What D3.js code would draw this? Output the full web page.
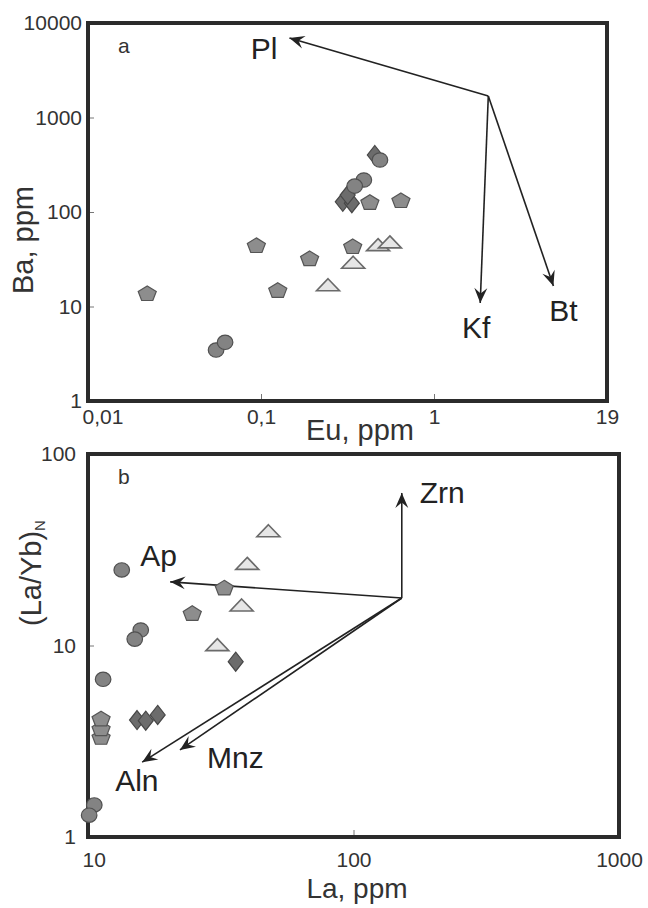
<!DOCTYPE html>
<html>
<head>
<meta charset="utf-8">
<script src="https://cdn.jsdelivr.net/npm/d3@7"></script>
<style>
  html, body { margin: 0; padding: 0; background: #fff; }
  svg { display: block; font-family: "Liberation Sans", Arial, Helvetica, sans-serif; }
</style>
</head>
<body>
<svg id="chart" width="648" height="908"></svg>
<script>
// ---------- Panel a: Ba vs Eu ----------
const euCircles   = [0.487, 0.393, 0.348, 0.055, 0.062];
const baCircles   = [355, 218, 188, 3.46, 4.18];
const euDiamonds  = [0.297, 0.335, 0.317, 0.455];
const baDiamonds  = [128, 124, 151, 401];
const euPentagons = [0.426, 0.644, 0.094, 0.191, 0.339, 0.125, 0.022];
const baPentagons = [128, 134, 44.8, 32.6, 43.7, 15.0, 13.9];
const euTriangles = [0.475, 0.556, 0.341, 0.244];
const baTriangles = [43, 46, 28, 16.2];

const euTicks = [0.01, 0.1, 1, 10];
const euTickLabels = ["0,01", "0,1", "1", "19"];
const baTicks = [1, 10, 100, 1000, 10000];
const baTickLabels = ["1", "10", "100", "1000", "10000"];

// mineral vectors (panel a)
const mineralsA = ["Pl", "Kf", "Bt"];
const originA = [2.06, 1690];
const tipEuA = [0.146, 1.85, 4.9];
const tipBaA = [6940, 10.9, 16.5];

// ---------- Panel b: (La/Yb)N vs La ----------
const laCircles    = [13.4, 15.8, 15.0, 11.4, 10.56, 10.1];
const ratioCircles = [24.8, 12.05, 10.8, 6.66, 1.47, 1.30];
const laPentagons    = [32.6, 24.7, 11.2, 11.2, 11.2];
const ratioPentagons = [20.1, 14.8, 3.34, 3.70, 4.17];
const laDiamonds    = [15.3, 16.5, 18.3, 36.0];
const ratioDiamonds = [4.08, 4.05, 4.34, 8.23];
const laTriangles    = [47.8, 39.8, 37.9, 30.7];
const ratioTriangles = [38.8, 26.2, 15.9, 9.86];

const laTicks = [10, 100, 1000];
const laTickLabels = ["10", "100", "1000"];
const ratioTicks = [1, 10, 100];
const ratioTickLabels = ["1", "10", "100"];

// mineral vectors (panel b)
const mineralsB = ["Zrn", "Ap", "Mnz", "Aln"];
const originB = [152, 17.7];
const tipLaB = [152, 20.4, 22.2, 16.0];
const tipRatioB = [62.6, 21.5, 2.85, 2.46];

// ---------- drawing ----------
const svg = d3.select("#chart");
const FONT_TICK = 21, FONT_MIN = 30;
const INK = "#2b2b2b";

const defs = svg.append("defs");
defs.append("marker")
  .attr("id", "barb")
  .attr("viewBox", "-16 -8 17 16")
  .attr("markerWidth", 17).attr("markerHeight", 16)
  .attr("refX", 0).attr("refY", 0)
  .attr("markerUnits", "userSpaceOnUse")
  .attr("orient", "auto")
  .append("path")
  .attr("d", "M0,0 L-15,-6.5 L-9.5,0 L-15,6.5 Z")
  .attr("fill", "#222");

function pentagonPath(R, sy) {
  const pts = d3.range(5).map(i => {
    const a = (-90 + 72 * i) * Math.PI / 180;
    return [R * Math.cos(a), R * Math.sin(a) * sy + 1];
  });
  return "M" + pts.map(p => p.join(",")).join("L") + "Z";
}
const shapes = {
  pentagon: { d: pentagonPath(9.5, 0.85), fill: "#8d8d8d", stroke: "#555" },
  diamond:  { d: "M0,-9.5 L7.5,0 L0,9.5 L-7.5,0 Z", fill: "#6c6c6c", stroke: "#474747" },
  circle:   { d: null, fill: "#838383", stroke: "#505050" },
  triangle: { d: "M0,-8 L11.5,4 L-11.5,4 Z", fill: "#e6e6e6", stroke: "#6a6a6a" }
};

function drawPanel(cfg) {
  const g = svg.append("g");
  const x = d3.scaleLog().domain(cfg.xDomain).range([cfg.left, cfg.right]);
  const y = d3.scaleLog().domain(cfg.yDomain).range([cfg.bottom, cfg.top]);

  // axes with short inward ticks
  const xa = g.append("g").attr("transform", `translate(0,${cfg.bottom})`)
    .call(d3.axisBottom(x).tickValues(cfg.xTicks)
      .tickFormat((d, i) => cfg.xTickLabels[i])
      .tickSizeInner(-7).tickSizeOuter(0).tickPadding(cfg.xPad));
  const ya = g.append("g").attr("transform", `translate(${cfg.left},0)`)
    .call(d3.axisLeft(y).tickValues(cfg.yTicks)
      .tickFormat((d, i) => cfg.yTickLabels[i])
      .tickSizeInner(-6).tickSizeOuter(0).tickPadding(cfg.yPad));
  [xa, ya].forEach(a => {
    a.select(".domain").remove();
    a.selectAll(".tick line").attr("stroke", "#777").attr("stroke-width", 1);
    a.selectAll(".tick text").attr("font-size", FONT_TICK).attr("fill", "#333")
      .attr("font-family", "Liberation Sans, Arial, sans-serif");
  });
  xa.selectAll(".tick text").attr("dy", "0.71em");
  // first x label sits to the right of the corner
  xa.selectAll(".tick text").filter((d, i) => i === 0)
    .attr("text-anchor", "start").attr("x", -6);

  // frame
  g.append("rect")
    .attr("x", cfg.left).attr("y", cfg.top)
    .attr("width", cfg.right - cfg.left).attr("height", cfg.bottom - cfg.top)
    .attr("fill", "none").attr("stroke", INK).attr("stroke-width", 4);

  // panel letter
  g.append("text").attr("x", cfg.left + 30).attr("y", cfg.top + 30)
    .attr("font-size", 21).attr("fill", "#333").text(cfg.letter);

  // axis titles
  g.append("text")
    .attr("x", cfg.xTitle[0]).attr("y", cfg.xTitle[1])
    .attr("text-anchor", "middle").attr("font-size", cfg.titleSize).attr("fill", "#333")
    .text(cfg.xLabel);
  const yt = g.append("text")
    .attr("transform", `translate(${cfg.yTitle[0]},${cfg.yTitle[1]}) rotate(-90)`)
    .attr("text-anchor", "middle").attr("font-size", 29).attr("fill", "#333");
  yt.append("tspan").text(cfg.yLabel);
  if (cfg.ySub) {
    yt.append("tspan").attr("font-size", 15).attr("dy", 4).text(cfg.ySub);
  }

  // mineral vectors
  cfg.minerals.forEach((m, i) => {
    const x0 = x(cfg.origin[0]), y0 = y(cfg.origin[1]);
    const x1 = x(cfg.tipX[i]), y1 = y(cfg.tipY[i]);
    g.append("line")
      .attr("x1", x0).attr("y1", y0).attr("x2", x1).attr("y2", y1)
      .attr("stroke", "#222").attr("stroke-width", 1.6)
      .attr("marker-end", "url(#barb)");
    const off = cfg.labelOffsets[m];
    g.append("text")
      .attr("x", x1 + off[0]).attr("y", y1 + off[1])
      .attr("text-anchor", off[2])
      .attr("font-size", FONT_MIN).attr("fill", "#222")
      .text(m);
  });

  // sample symbols
  cfg.series.forEach(s => {
    const st = shapes[s.shape];
    s.xs.forEach((v, i) => {
      const px = x(v), py = y(s.ys[i]);
      if (s.shape === "circle") {
        g.append("ellipse").attr("cx", px).attr("cy", py)
          .attr("rx", 7.8).attr("ry", 7.2)
          .attr("fill", st.fill).attr("stroke", st.stroke).attr("stroke-width", 1.2);
      } else {
        g.append("path").attr("d", st.d)
          .attr("transform", `translate(${px},${py})`)
          .attr("fill", st.fill).attr("stroke", st.stroke)
          .attr("stroke-width", s.shape === "triangle" ? 1.6 : 1.2)
          .attr("stroke-linejoin", "miter");
      }
    });
  });
}

drawPanel({
  letter: "a",
  left: 88, right: 607, top: 23, bottom: 401,
  xDomain: [0.01, 10], yDomain: [1, 10000],
  xTicks: euTicks, xTickLabels: euTickLabels,
  yTicks: baTicks, yTickLabels: baTickLabels,
  xPad: 8, yPad: 6,
  xLabel: "Eu, ppm", xTitle: [360, 440], titleSize: 29,
  yLabel: "Ba, ppm", yTitle: [33, 240],
  minerals: mineralsA, origin: originA, tipX: tipEuA, tipY: tipBaA,
  labelOffsets: { Pl: [-12, 21, "end"], Kf: [-4, 35, "middle"], Bt: [10, 35, "middle"] },
  series: [
    { shape: "pentagon", xs: euPentagons, ys: baPentagons },
    { shape: "diamond",  xs: euDiamonds,  ys: baDiamonds },
    { shape: "circle",   xs: euCircles,   ys: baCircles },
    { shape: "triangle", xs: euTriangles, ys: baTriangles }
  ]
});

drawPanel({
  letter: "b",
  left: 88, right: 619, top: 454, bottom: 837,
  xDomain: [10, 1000], yDomain: [1, 100],
  xTicks: laTicks, xTickLabels: laTickLabels,
  yTicks: ratioTicks, yTickLabels: ratioTickLabels,
  xPad: 15, yPad: 12,
  xLabel: "La, ppm", xTitle: [357, 898], titleSize: 28,
  yLabel: "(La/Yb)", ySub: "N", yTitle: [41, 573],
  minerals: mineralsB, origin: originB, tipX: tipLaB, tipY: tipRatioB,
  labelOffsets: { Zrn: [18, 10, "start"], Ap: [-30, -16, "start"], Mnz: [27, 18, "start"], Aln: [-27, 29, "start"] },
  series: [
    { shape: "pentagon", xs: laPentagons, ys: ratioPentagons },
    { shape: "diamond",  xs: laDiamonds,  ys: ratioDiamonds },
    { shape: "circle",   xs: laCircles,   ys: ratioCircles },
    { shape: "triangle", xs: laTriangles, ys: ratioTriangles }
  ]
});
</script>
</body>
</html>
